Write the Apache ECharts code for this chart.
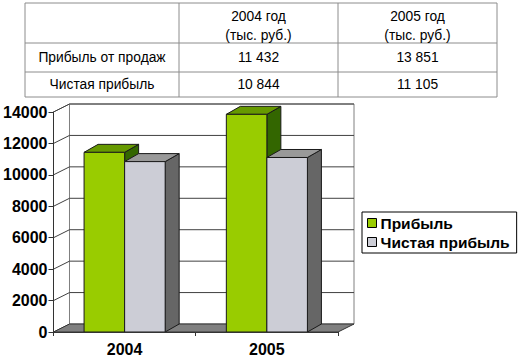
<!DOCTYPE html>
<html><head><meta charset="utf-8">
<script src="https://cdn.jsdelivr.net/npm/echarts@6/dist/echarts.min.js"></script>
<style>html,body{margin:0;padding:0;background:#fff}#c{width:523px;height:358px}</style>
</head><body><div id="c"></div>
<script>
const categories = ['2004', '2005'];
const seriesNames = ['Прибыль', 'Чистая прибыль'];
const profitSales = [11432, 13851];
const netProfit = [10844, 11105];
const yTickValues = [0, 2000, 4000, 6000, 8000, 10000, 12000, 14000];
const tableColumnHeaders = [['2004 год', '(тыс. руб.)'], ['2005 год', '(тыс. руб.)']];
const tableRowLabels = ['Прибыль от продаж', 'Чистая прибыль'];

const FONT = '"Liberation Sans", Arial, sans-serif';
const WALL_DEPTH = [16, -8];
const BAR_DEPTH = [14, -8];
const palette = [
  { front: '#99cc00', top: '#669900', side: '#336600' },
  { front: '#cccdd6', top: '#999999', side: '#666666' }
];

function fmt(n) { return String(n).replace(/\B(?=(\d{3})+(?!\d))/g, ' '); }

const chart = echarts.init(document.getElementById('c'), null, { renderer: 'svg' });

function frameRender(params, api) {
  const cs = params.coordSys;
  const x0 = cs.x, x1 = cs.x + cs.width, yt = cs.y, yb = cs.y + cs.height;
  const dx = WALL_DEPTH[0], dy = WALL_DEPTH[1];
  const ch = [];
  ch.push({ type: 'polygon', shape: { points: [[x0 + dx, yt + dy], [x1 + dx, yt + dy], [x1 + dx, yb + dy], [x0 + dx, yb + dy]] },
    style: { fill: '#ffffff', stroke: '#808080', lineWidth: 1 } });
  ch.push({ type: 'polygon', shape: { points: [[x0, yt], [x0 + dx, yt + dy], [x0 + dx, yb + dy], [x0, yb]] },
    style: { fill: '#ffffff', stroke: '#808080', lineWidth: 1 } });
  yTickValues.forEach(function (v) {
    if (v === yTickValues[0]) return;
    const y = api.coord([0, v])[1];
    ch.push({ type: 'polyline', shape: { points: [[x0, y], [x0 + dx, y + dy], [x1 + dx, y + dy]] },
      style: { fill: null, stroke: '#404040', lineWidth: 1 } });
  });
  ch.push({ type: 'polygon', shape: { points: [[x0, yb], [x1, yb], [x1 + dx, yb + dy], [x0 + dx, yb + dy]] },
    style: { fill: '#808080', stroke: '#333333', lineWidth: 1 } });
  return { type: 'group', children: ch };
}

function barRender(s) {
  return function (params, api) {
    const ci = api.value(0), v = api.value(1);
    const band = api.size([1, 0])[0];
    const bw = band * 0.285;
    const base = api.coord([ci, 0]);
    const topP = api.coord([ci, v]);
    const xl = base[0] - bw + s * bw, xr = xl + bw;
    const yb = base[1], yt = topP[1];
    const dx = BAR_DEPTH[0], dy = BAR_DEPTH[1];
    const c = palette[s];
    const st = '#1a1a1a';
    return { type: 'group', children: [
      { type: 'polygon', shape: { points: [[xr, yt], [xr + dx, yt + dy], [xr + dx, yb + dy], [xr, yb]] }, style: { fill: c.side, stroke: st, lineWidth: 1 } },
      { type: 'polygon', shape: { points: [[xl, yt], [xr, yt], [xr + dx, yt + dy], [xl + dx, yt + dy]] }, style: { fill: c.top, stroke: st, lineWidth: 1 } },
      { type: 'rect', shape: { x: xl, y: yt, width: bw, height: yb - yt }, style: { fill: c.front, stroke: st, lineWidth: 1 } }
    ] };
  };
}

// table graphic
const colX = [25, 179, 338, 497];
const rowY = [3, 43, 72, 97];
const tableEls = [];
const lineStyle = { stroke: '#8c8c8c', lineWidth: 1 };
colX.forEach(function (x) { tableEls.push({ type: 'line', shape: { x1: x, y1: rowY[0], x2: x, y2: rowY[rowY.length - 1] }, style: lineStyle }); });
rowY.forEach(function (y) { tableEls.push({ type: 'line', shape: { x1: colX[0], y1: y, x2: colX[colX.length - 1], y2: y }, style: lineStyle }); });
const txt = function (x, y, t) {
  return { type: 'text', x: x, y: y, style: { text: t, fill: '#000', font: '13.8px ' + FONT, textAlign: 'center', textVerticalAlign: 'middle' } };
};
tableColumnHeaders.forEach(function (h, j) {
  const cx = (colX[j + 1] + colX[j + 2]) / 2;
  tableEls.push(txt(cx, 16, h[0]));
  tableEls.push(txt(cx, 35, h[1]));
});
const seriesValues = [profitSales, netProfit];
tableRowLabels.forEach(function (lab, i) {
  const cy = (rowY[i + 1] + rowY[i + 2]) / 2;
  tableEls.push(txt((colX[0] + colX[1]) / 2, cy, lab));
  categories.forEach(function (cat, j) {
    tableEls.push(txt((colX[j + 1] + colX[j + 2]) / 2, cy, fmt(seriesValues[i][j])));
  });
});

chart.setOption({
  animation: false,
  backgroundColor: '#ffffff',
  textStyle: { fontFamily: FONT },
  graphic: [{ type: 'group', children: tableEls }],
  grid: { left: 53, right: 185, top: 112, bottom: 26, containLabel: false },
  legend: {
    data: seriesNames, orient: 'vertical', left: 362, top: 212,
    padding: [3, 7, 3, 5], itemGap: 3, itemWidth: 9, itemHeight: 9, icon: 'rect',
    borderColor: '#000', borderWidth: 1,
    itemStyle: { borderColor: '#000', borderWidth: 1 },
    textStyle: { fontFamily: FONT, fontWeight: 'bold', fontSize: 15.5, color: '#000', padding: [0, 0, 0, -1] }
  },
  xAxis: {
    type: 'category', data: categories, z: 5,
    axisLine: { show: true, lineStyle: { color: '#333', width: 1 } },
    axisTick: { show: true, length: 4, lineStyle: { color: '#333' } },
    axisLabel: { fontFamily: FONT, fontWeight: 'bold', fontSize: 16, color: '#000', margin: 9 },
    splitLine: { show: false }
  },
  yAxis: {
    type: 'value', min: 0, max: 14000, interval: 2000, z: 5,
    axisLine: { show: true, lineStyle: { color: '#333', width: 1 } },
    axisTick: { show: true, length: 5, lineStyle: { color: '#333' } },
    axisLabel: { fontFamily: FONT, fontWeight: 'bold', fontSize: 16, color: '#000', margin: 6,
      formatter: function (v) { return String(v); } },
    splitLine: { show: false }
  },
  series: [
    { type: 'custom', name: '__frame', silent: true, z: 1, renderItem: frameRender, data: [[0, 0]], clip: false },
    { type: 'custom', name: seriesNames[0], z: 3, renderItem: barRender(0), itemStyle: { color: palette[0].front },
      data: categories.map(function (c, i) { return [i, profitSales[i]]; }) },
    { type: 'custom', name: seriesNames[1], z: 3, renderItem: barRender(1), itemStyle: { color: palette[1].front },
      data: categories.map(function (c, i) { return [i, netProfit[i]]; }) }
  ]
});
</script></body></html>
